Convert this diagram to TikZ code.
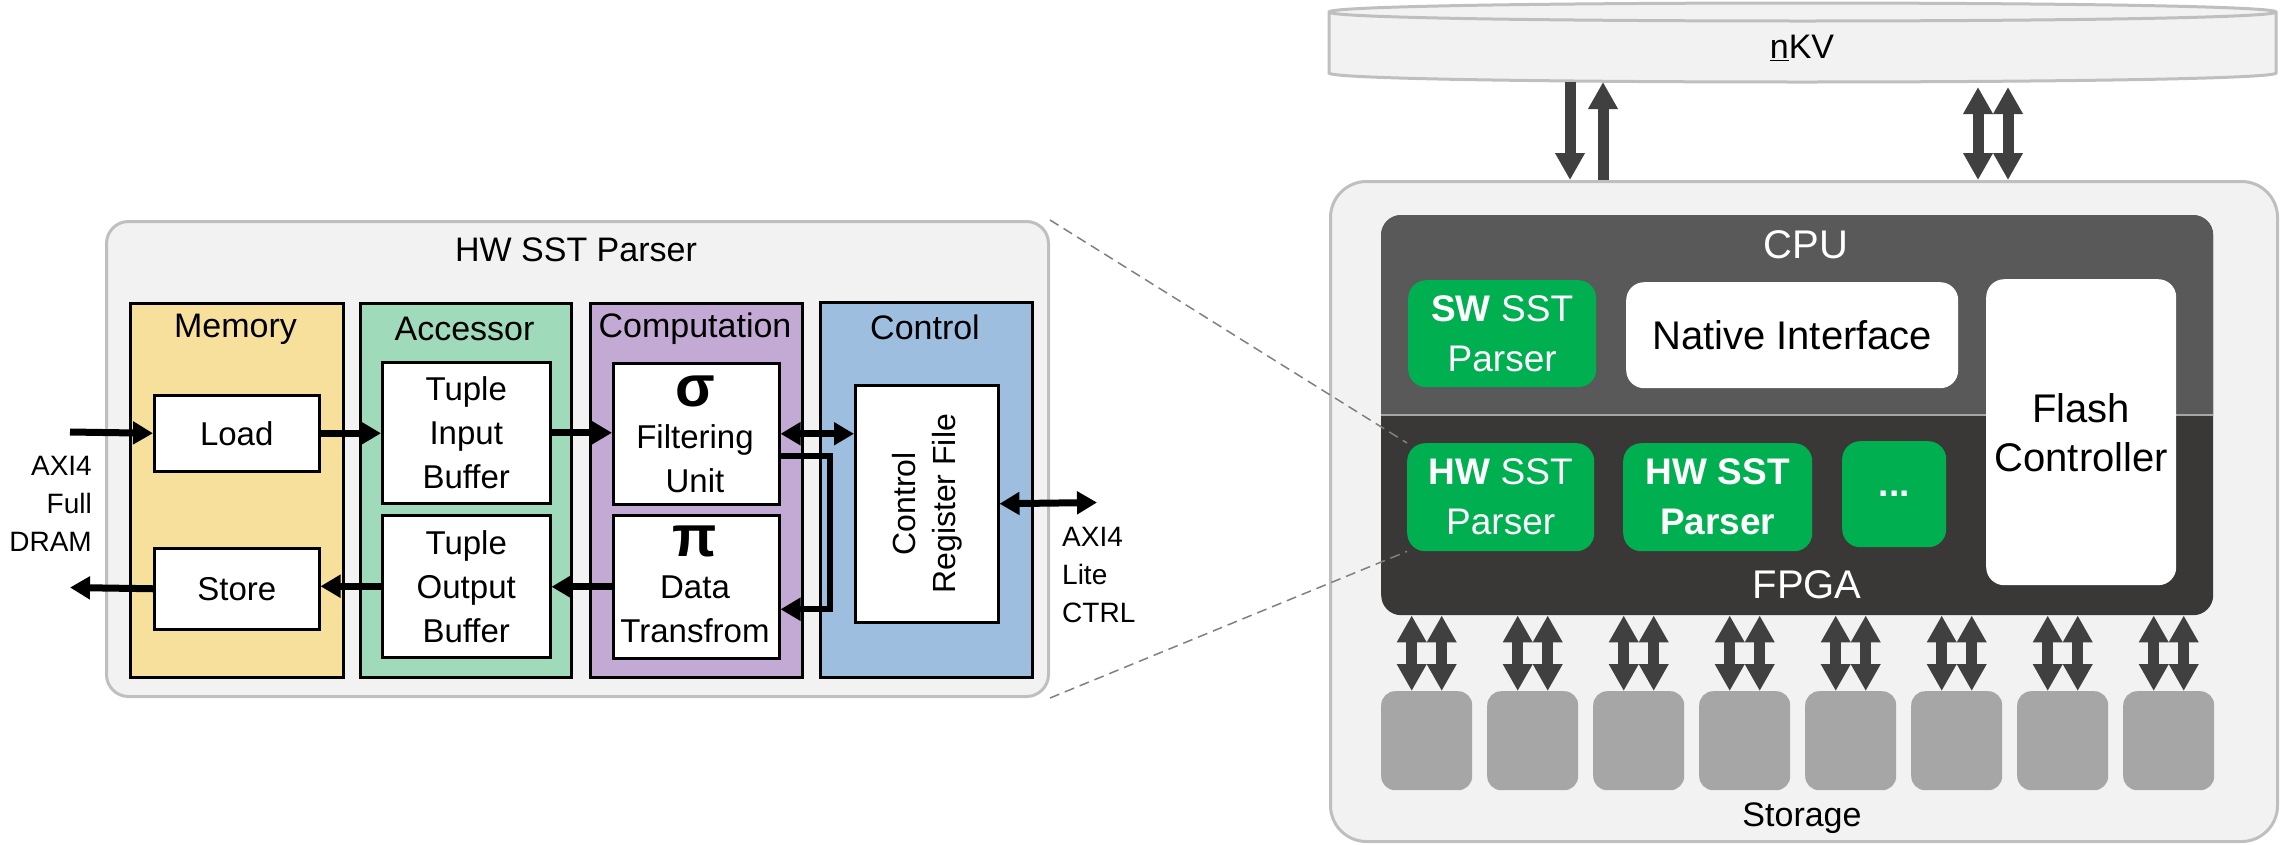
\documentclass[tikz,border=0pt]{standalone}
\usepackage{fontspec}
\setmainfont{Liberation Sans}
\usetikzlibrary{arrows.meta,calc}
\definecolor{memc}{HTML}{F7E09C}
\definecolor{accc}{HTML}{9FDBBB}
\definecolor{compc}{HTML}{C3AAD4}
\definecolor{ctrlc}{HTML}{9EBEE0}
\definecolor{panelc}{HTML}{F2F2F2}
\definecolor{panelb}{HTML}{BFBFBF}
\definecolor{cpuc}{HTML}{595959}
\definecolor{fpgac}{HTML}{3A3836}
\definecolor{greenc}{HTML}{00AF50}
\definecolor{storc}{HTML}{A6A6A6}
\definecolor{darkarr}{HTML}{404040}
\definecolor{dashc}{HTML}{808080}
\begin{document}
\begin{tikzpicture}[x=1pt,y=-1pt,
  panel/.style={fill=panelc, draw=panelb, line width=3pt, rounded corners=22pt, anchor=north west, inner sep=0pt},
  column/.style={draw=black, line width=2.5pt, anchor=north west, inner sep=0pt},
  wbox/.style={fill=white, draw=black, line width=2.5pt, anchor=north west, align=center, inner sep=0pt, font=\fontsize{33}{44}\selectfont},
  coltitle/.style={font=\fontsize{34}{40}\selectfont},
  plain/.style={align=center, inner sep=0pt, font=\fontsize{33}{44}\selectfont},
  greek/.style={inner sep=0pt, font=\fontsize{58}{60}\selectfont\bfseries},
  arr/.style={line width=7pt, -{Triangle[length=20pt,width=22pt]}},
  darr/.style={line width=7pt, {Triangle[length=20pt,width=22pt]}-{Triangle[length=20pt,width=22pt]}},
  garr/.style={draw=darkarr, line width=11pt, -{Triangle[length=27pt,width=28pt]}},
  gdarr/.style={draw=darkarr, line width=11pt, {Triangle[length=27pt,width=28pt]}-{Triangle[length=27pt,width=28pt]}},
  gbox/.style={fill=greenc, rounded corners=18pt, anchor=north west, align=center, inner sep=0pt, text=white, font=\fontsize{37}{50}\selectfont},
  whbox/.style={fill=white, rounded corners=18pt, anchor=north west, align=center, inner sep=0pt, font=\fontsize{40}{49}\selectfont},
  stor/.style={fill=storc, rounded corners=14pt, minimum width=91pt, minimum height=99pt, anchor=north west, inner sep=0pt},
  wtext/.style={text=white, inner sep=0pt, font=\fontsize{40}{48}\selectfont},
  zoomline/.style={draw=dashc, line width=1.5pt, dash pattern=on 10pt off 6pt}
]
\useasboundingbox (0,0) rectangle (2280,844);

% ---------------- left panel ----------------
\node[panel, minimum width=942pt, minimum height=475pt] (hwp) at (105,220) {};
\node[coltitle] (hwt) at (576,250) {HW SST Parser};

\node[column, fill=memc, minimum width=213pt, minimum height=374pt] (mem) at (129,302) {};
\node[column, fill=accc, minimum width=211pt, minimum height=374pt] (acc) at (359,302) {};
\node[column, fill=compc, minimum width=212pt, minimum height=374pt] (comp) at (589,302) {};
\node[column, fill=ctrlc, minimum width=212pt, minimum height=375pt] (ctrl) at (819,301) {};

\node[coltitle] (memt) at (235.5,329) {Memory};
\node[coltitle] (acct) at (464.5,329) {Accessor};
\node[coltitle] (compt) at (695,329) {Computation};
\node[coltitle] (ctrlt) at (925,327) {Control};

\node[wbox, minimum width=165pt, minimum height=76pt] (load) at (153,394) {Load};
\node[wbox, minimum width=165pt, minimum height=81pt] (store) at (153,547) {Store};
\node[wbox, minimum width=168pt, minimum height=141pt] (tin) at (381,361) {Tuple\\Input\\Buffer};
\node[wbox, minimum width=168pt, minimum height=142pt] (tout) at (381,514) {Tuple\\Output\\Buffer};
\node[wbox, minimum width=166pt, minimum height=141pt] (filt) at (612,362) {};
\node[wbox, minimum width=166pt, minimum height=143pt] (dt) at (612,514) {};
\node[greek] (sig) at (695,391) {σ};
\node[plain] (filtt) at (695,459) {Filtering\\Unit};
\node[greek] (pit) at (695,541) {π};
\node[plain] (dtt) at (695,609) {Data\\Transfrom};
\node[wbox, minimum width=143pt, minimum height=237pt] (creg) at (854,384) {};
\node[plain, rotate=90, font=\fontsize{32}{40}\selectfont] (cregt) at (creg.center) {Control\\Register File};

\node[anchor=east, align=right, inner sep=0pt, font=\fontsize{28}{38}\selectfont] (axif) at (92,504) {AXI4\\Full\\DRAM};
\node[anchor=west, align=left, inner sep=0pt, font=\fontsize{28}{38}\selectfont] (axic) at (1062,575) {AXI4\\Lite\\CTRL};

\coordinate (axiin) at (70,432);
\coordinate (axiout) at (70,587.5);
\coordinate (axil) at (1097,502.5);

\draw[arr] (axiin) -- (load.west);
\draw[arr] (load.east) -- (load.east -| tin.west);
\draw[arr] (tin.east) -- (tin.east -| filt.west);
\draw[darr] (filt.east) -- (filt.east -| creg.west);
\draw[line width=6pt, -{Triangle[length=20pt,width=22pt]}] ([yshift=-22.5pt]filt.east) -- ++(49,0) |- ([yshift=-22.5pt]dt.east);
\draw[darr] (creg.east) -- (axil);
\draw[arr] (dt.west) -- (dt.west -| tout.east);
\draw[arr] (tout.west) -- (tout.west -| store.east);
\draw[arr] (store.west) -- (axiout);

% ---------------- right side ----------------
% nKV cylinder
\path[fill=panelc, draw=panelb, line width=3pt] (1329,12) -- (1329,73) .. controls (1329,85) and (2276,85) .. (2276,73) -- (2276,12) .. controls (2276,0) and (1329,0) .. (1329,12) -- cycle;
\draw[panelb, line width=3pt] (1329,12) .. controls (1329,24) and (2276,24) .. (2276,12);
\node[inner sep=0pt, font=\fontsize{34}{40}\selectfont] (nkv) at (1802,48) {\underline{n}KV};

\node[panel, rounded corners=36pt, minimum width=947pt, minimum height=660pt] (dev) at (1329,180) {};

\coordinate (ka) at (1570,82);
\coordinate (kb) at (1603,82);
\coordinate (kc) at (1978,87);
\coordinate (kd) at (2008,87);
\draw[garr] (ka) -- (ka |- dev.north);
\draw[garr] (kb |- dev.north) -- (kb);
\draw[gdarr] (kc) -- (kc |- dev.north);
\draw[gdarr] (kd) -- (kd |- dev.north);

% chip
\node[fill=fpgac, rounded corners=20pt, minimum width=832pt, minimum height=400pt, anchor=north west, inner sep=0pt] (chip) at (1381,215) {};
\begin{scope}
\clip (1381,215) rectangle (2213,415);
\fill[cpuc, rounded corners=20pt] (1381,215) rectangle (2213,615);
\end{scope}
\draw[storc, line width=2pt] (1381,415) -- (2213,415);

\node[wtext] (cput) at (1806,245) {CPU};
\node[wtext] (fpgat) at (1807,585) {FPGA};

\node[gbox, minimum width=188pt, minimum height=107pt] (sw) at (1408,280) {\textbf{SW} SST\\Parser};
\node[whbox, minimum width=332pt, minimum height=106pt] (nat) at (1626,282) {Native Interface};
\node[whbox, minimum width=190pt, minimum height=306pt] (flash) at (1986,279) {Flash\\Controller};
\node[gbox, minimum width=187pt, minimum height=108pt] (hw1) at (1407,443) {\textbf{HW} SST\\Parser};
\node[gbox, minimum width=189pt, minimum height=108pt, font=\fontsize{37}{50}\selectfont\bfseries] (hw2) at (1623,443) {HW SST\\Parser};
\node[gbox, minimum width=104pt, minimum height=106pt, font=\fontsize{37}{50}\selectfont\bfseries] (dots) at (1842,441) {...};

% zoom lines
\draw[zoomline] (hwp.north east) -- (hw1.north west);
\draw[zoomline] (hwp.south east) -- (hw1.south west);

% storage
\foreach \i in {0,...,7} {
  \node[stor] (s\i) at ({1381+106*\i},691) {};
  \draw[gdarr] ([xshift=-15pt]s\i.north) -- ([xshift=-15pt]s\i.north |- chip.south);
  \draw[gdarr] ([xshift=15pt]s\i.north) -- ([xshift=15pt]s\i.north |- chip.south);
}
\node[inner sep=0pt, font=\fontsize{34}{40}\selectfont] (stt) at (1802,818) {Storage};
\end{tikzpicture}
\end{document}
